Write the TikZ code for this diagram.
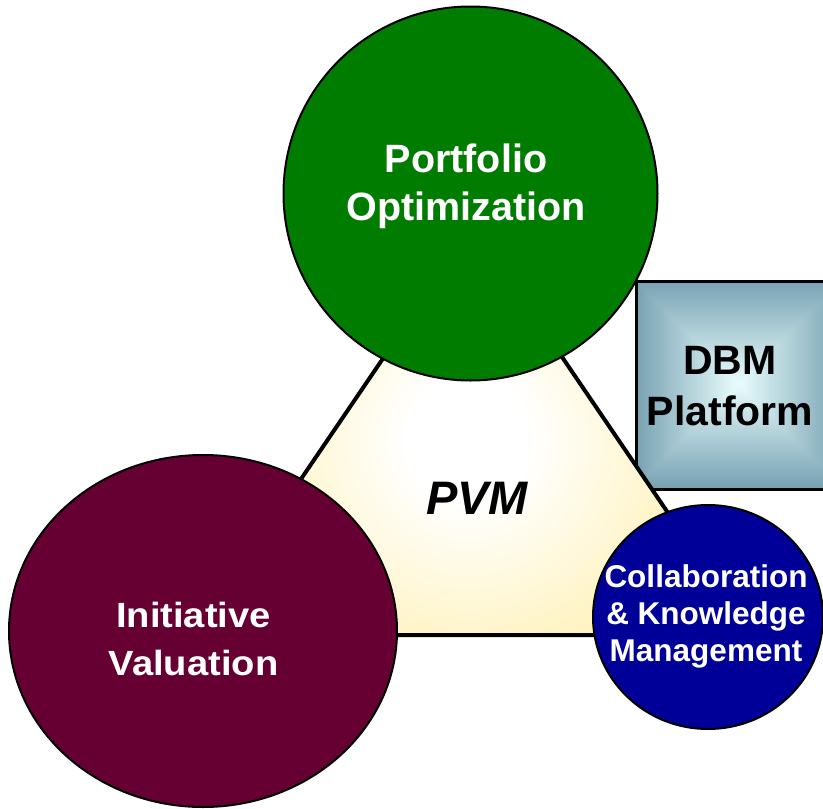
\documentclass[tikz,border=0pt]{standalone}
\usepackage{fontspec}
\setmainfont{Liberation Sans}
\usetikzlibrary{shapes.geometric}
\definecolor{pogreen}{RGB}{0,125,0}
\definecolor{ivmaroon}{RGB}{102,0,51}
\definecolor{ckblue}{RGB}{0,0,153}
\definecolor{pvmyellow}{RGB}{255,241,182}
\definecolor{dbmedge}{RGB}{120,162,178}
\definecolor{dbmcenter}{RGB}{234,254,254}
\pgfdeclareradialshading{pvmshade}{\pgfpoint{0bp}{0bp}}{color(0bp)=(white); color(6bp)=(white); color(25bp)=(pvmyellow); color(50bp)=(pvmyellow)}
\tikzset{
  bubble/.style={draw=black, line width=2pt, inner sep=0pt},
  lbl/.style={align=center, anchor=base, inner sep=0pt},
}
\begin{document}
\begin{tikzpicture}[x=1pt,y=-1pt]
\useasboundingbox (0,0) rectangle (823,809);
\clip (0,0) rectangle (823,809);
% DBM platform box with pyramid gradient
\foreach \i in {0,...,52} {
  \pgfmathsetmacro\p{100*\i/52}
  \fill[dbmcenter!\p!dbmedge] (635+2*\i,280+2*\i) rectangle (843-2*\i,488-2*\i);
}
\node[draw=black, line width=3pt, minimum width=208, minimum height=208, inner sep=0pt, anchor=north west] (dbm) at (635,280) {};
\node[lbl, font=\fontsize{41}{50.7}\selectfont\bfseries] (dbmt) at (730,425) {DBM\\Platform};
% PVM triangle
\coordinate (tA) at (473,226);
\coordinate (tB) at (195,635);
\coordinate (tC) at (751,635);
\fill[pvmyellow] (tA)--(tB)--(tC)--cycle;
\begin{scope}
  \clip (tA)--(tB)--(tC)--cycle;
  \shade[shading=pvmshade] (468,440) circle (250);
\end{scope}
\draw[line width=4pt, line join=miter] (tA)--(tB)--(tC)--cycle;
\node[lbl, font=\fontsize{47}{56}\selectfont\bfseries\itshape] (pvm) at (477,514) {PVM};
% circles
\node[bubble, circle, fill=pogreen, minimum size=374] (po) at (470.5,193.5) {};
\node[bubble, ellipse, fill=ivmaroon, minimum width=388, minimum height=352] (iv) at (203,631) {};
\node[bubble, ellipse, fill=ckblue, minimum width=230, minimum height=224] (ck) at (708,617) {};
\node[lbl, text=white, font=\fontsize{39.5}{47.3}\selectfont\bfseries] (pot) at (466,220) {Portfolio\\Optimization};
\node[lbl, text=white, xscale=1.09, font=\fontsize{35}{48.5}\selectfont\bfseries] (ivt) at (193.5,675.5) {Initiative\\Valuation};
\node[lbl, text=white, font=\fontsize{31.5}{37.1}\selectfont\bfseries] (ckt) at (706,661.7) {Collaboration\\\& Knowledge\\Management};
\end{tikzpicture}
\end{document}
